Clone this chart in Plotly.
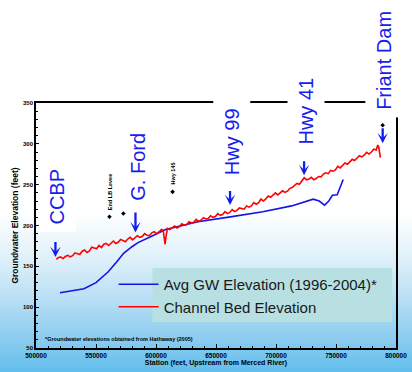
import plotly.graph_objects as go

# ---------------- data ----------------
gw_station = [520000, 530000, 540000, 550000, 560000, 567000, 573000, 580000, 585000,
              595000, 603000, 608000, 622000, 635000, 662000, 689000, 713000, 725000,
              731000, 736000, 740500, 744000, 747000, 751000, 756000]
gw_elev = [117.7, 120, 122.5, 130, 143, 155, 166, 174, 179,
           186, 192, 195, 200, 204.5, 210.6, 216.8, 224, 229,
           232.3, 230, 225, 230, 237, 237.5, 256.3]

bed_station_k = [517.0, 518.5, 520.5, 522.5, 524.5, 526.5, 528.5, 530.5, 532.5, 534.5,
                 536.5, 538.5, 540.5, 542.5, 544.5, 546.5, 548.5, 550.5, 552.5, 554.5,
                 556.5, 558.5, 560.5, 562.5, 564.5, 566.5, 568.5, 570.5, 572.5, 574.5,
                 576.5, 578.5, 580.5, 582.5, 584.5, 586.5, 588.5, 590.5, 592.5, 594.5,
                 596.5, 598.5, 600.5, 602.5, 604.5, 606.0, 607.0, 607.6, 608.3, 609.5,
                 611.5, 613.5, 615.5, 617.5, 619.5, 621.5, 623.5, 625.5, 627.5, 629.5,
                 631.5, 633.5, 635.5, 637.5, 639.5, 641.5, 643.5, 645.5, 647.5, 649.5,
                 651.5, 653.5, 655.5, 657.5, 659.5, 661.5, 663.5, 665.5, 667.5, 669.5,
                 671.5, 673.5, 675.5, 677.5, 679.5, 681.5, 683.5, 685.5, 687.5, 689.5,
                 691.5, 693.5, 695.5, 697.5, 699.5, 701.5, 703.5, 705.5, 707.5, 709.5,
                 711.5, 713.5, 715.5, 717.5, 719.5, 721.5, 723.5, 725.5, 727.5, 729.5,
                 731.5, 733.5, 735.5, 737.5, 739.5, 741.5, 743.5, 745.5, 747.5, 749.5,
                 751.5, 753.5, 755.5, 757.5, 759.5, 761.5, 763.5, 765.5, 767.5, 769.5,
                 771.5, 773.5, 775.5, 777.5, 779.5, 781.5, 783.5, 784.8, 785.6, 786.3,
                 787.0]
bed_elev = [158.5, 160.5, 161.5, 159.5, 162, 163.5, 161.5, 163, 166.5, 165,
            164.5, 168.5, 170, 167, 169, 173.5, 172, 171.5, 175.5, 173,
            177, 178, 175.5, 178.5, 181, 178, 179.5, 183, 181.5, 180,
            183.5, 185.5, 182.5, 185, 187.5, 185.5, 186.5, 190, 188, 187.5,
            191, 192.5, 190, 192, 195, 194, 184, 177, 186, 196.5,
            195, 197, 199.5, 197, 198.5, 202, 200.5, 201, 204.5, 203,
            204, 207.5, 205, 206.5, 209.5, 208, 208.5, 212, 210, 211,
            214.5, 212.5, 213.5, 217, 214.5, 216, 219.5, 217, 218.5, 221.5,
            220.5, 220, 224, 222.5, 224, 228, 226, 228, 232.5, 230,
            232.5, 236, 234.5, 237, 240, 237.5, 240, 242.5, 240.5, 242,
            245.5, 246.5, 249, 251.5, 250.5, 254, 258.5, 256, 257, 259,
            256, 257.5, 260, 259.5, 263, 264.5, 263.5, 267.5, 266.5, 268,
            272.5, 270.5, 273, 276.5, 275, 277.5, 281, 279.5, 282, 285.5,
            284, 286, 289.5, 287.5, 290, 293.5, 292.5, 298.5, 296, 289,
            283]
bed_station = [v * 1000 for v in bed_station_k]

landmark_station = [561200, 572800, 613800, 788900]
landmark_elev = [210.6, 214.8, 241.2, 322.7]

x_range = [500000, 800000]
y_range = [50, 350]

FONT = "Liberation Sans"
BLUE_TXT = "rgb(22,32,238)"

fig = go.Figure()

fig.add_trace(go.Scatter(x=gw_station, y=gw_elev, mode="lines",
                         name="Avg GW Elevation (1996-2004)*",
                         line=dict(color="rgb(20,20,230)", width=1.6)))
fig.add_trace(go.Scatter(x=bed_station, y=bed_elev, mode="lines",
                         name="Channel Bed Elevation",
                         line=dict(color="rgb(255,0,0)", width=1.6)))
fig.add_trace(go.Scatter(x=landmark_station, y=landmark_elev, mode="markers",
                         showlegend=False,
                         marker=dict(symbol="diamond", size=3.5, color="black")))

# ---------------- background gradient (white -> light blue) ----------------
H_TOP, H_BOT = 103, 348          # pixel rows of plot area top / bottom
def py2paper(py):
    return (H_BOT - py) / (H_BOT - H_TOP)

stops = [(212, (255, 255, 255)), (250, (230, 243, 251)), (290, (194, 227, 246)),
         (330, (150, 208, 240)), (372, (98, 190, 236))]
def col_at(py):
    for (p0, c0), (p1, c1) in zip(stops[:-1], stops[1:]):
        if p0 <= py <= p1:
            t = (py - p0) / (p1 - p0)
            return tuple(int(round(a + (b - a) * t)) for a, b in zip(c0, c1))
    return stops[-1][1]

shapes = []
py = 212
while py < 372:
    c = col_at(py + 1.5)
    shapes.append(dict(type="rect", xref="paper", yref="paper", layer="below",
                       x0=-0.2, x1=1.1, y0=py2paper(py + 3.2), y1=py2paper(py),
                       line=dict(width=0), fillcolor="rgb(%d,%d,%d)" % c))
    py += 3

# legend background box
shapes.append(dict(type="rect", xref="paper", yref="paper", layer="below",
                   x0=(156 - 36) / 371, x1=(403 - 36) / 371,
                   y0=py2paper(322), y1=py2paper(268),
                   line=dict(width=0), fillcolor="rgb(184,224,226)"))

annotations = []
# blue location labels (rotated, white boxes)
labels = [("CCBP", 517400, 235.3, "y"), ("G. Ford", 584900, 271.8, "y"),
          ("Hwy 99", 662900, 302.6, "y"), ("Hwy 41", 724800, 340.5, "y"),
          ("Friant Dam", 790300, py2paper(60.5), "paper")]
for txt, lx, ly, yr in labels:
    annotations.append(dict(x=lx, y=ly, xref="x", yref=yr, text=txt, showarrow=False,
                            xanchor="center", yanchor="middle",
                            textangle=-90, bgcolor="white", borderpad=7,
                            font=dict(family=FONT, size=20, color=BLUE_TXT)))
# arrows
arrows = [(516200, 161.4, -17), (582900, 191.5, -22), (661700, 225.0, -16),
          (723400, 261.6, -16), (788900, 300.7, -17)]
for axx, ayy, ln in arrows:
    annotations.append(dict(x=axx, y=ayy, xref="x", yref="y", text=" ", showarrow=True,
                            ax=0, ay=ln, arrowhead=3, arrowsize=0.75, arrowwidth=2.3,
                            arrowcolor="rgb(20,30,235)", font=dict(size=1)))
# small landmark labels
for txt, lx, ly in [("End LB Levee", 561200, 241.4), ("Hwy 145", 614000, 263.4)]:
    annotations.append(dict(x=lx, y=ly, xref="x", yref="y", text=txt, showarrow=False,
                            textangle=-90, xanchor="center", yanchor="middle",
                            font=dict(family=FONT, size=5.5, color="black", weight="bold")))
# footnote
annotations.append(dict(x=(43 - 36) / 371, y=py2paper(339), xref="paper", yref="paper",
                        xanchor="left", yanchor="middle", showarrow=False,
                        text="*Groundwater elevations obtained from Hathaway (2005)",
                        font=dict(family=FONT, size=5.5, color="black", weight="bold")))

fig.update_layout(
    width=412, height=372, autosize=False,
    margin=dict(l=36, r=5, t=H_TOP, b=372 - H_BOT, pad=0),
    paper_bgcolor="white", plot_bgcolor="rgba(0,0,0,0)",
    shapes=shapes, annotations=annotations,
    showlegend=True,
    legend=dict(x=(116 - 36) / 371, y=py2paper(268), xanchor="left", yanchor="top",
                bgcolor="rgba(0,0,0,0)", borderwidth=0, itemwidth=40,
                font=dict(family=FONT, size=15, color="rgb(25,25,25)")),
    xaxis=dict(range=x_range, dtick=50000, tick0=500000, tickformat="d",
               showgrid=False, zeroline=False, showline=True, linecolor="black",
               linewidth=1.5, mirror=True, ticks="inside", ticklen=4, tickwidth=1,
               tickcolor="black", ticklabeloverflow="allow",
               minor=dict(dtick=10000, ticks="inside", ticklen=2, tickcolor="black"),
               tickfont=dict(family=FONT, size=6.5, color="black", weight="bold"),
               title=dict(text="Station (feet, Upstream from Merced River)", standoff=2,
                          font=dict(family=FONT, size=7, color="black", weight="bold"))),
    yaxis=dict(range=y_range, dtick=50, tick0=50,
               showgrid=False, zeroline=False, showline=True, linecolor="black",
               linewidth=1.5, mirror=True, ticks="inside", ticklen=3, tickwidth=1,
               tickcolor="black",
               minor=dict(dtick=10, ticks="inside", ticklen=2, tickcolor="black"),
               tickfont=dict(family=FONT, size=6, color="black", weight="bold"),
               title=dict(text="Groundwater Elevation (feet)", standoff=3,
                          font=dict(family=FONT, size=8.5, color="black", weight="bold"))),
)

fig.write_html("out.html", config={"displayModeBar": False},
               post_script="document.body.style.margin='0';")
